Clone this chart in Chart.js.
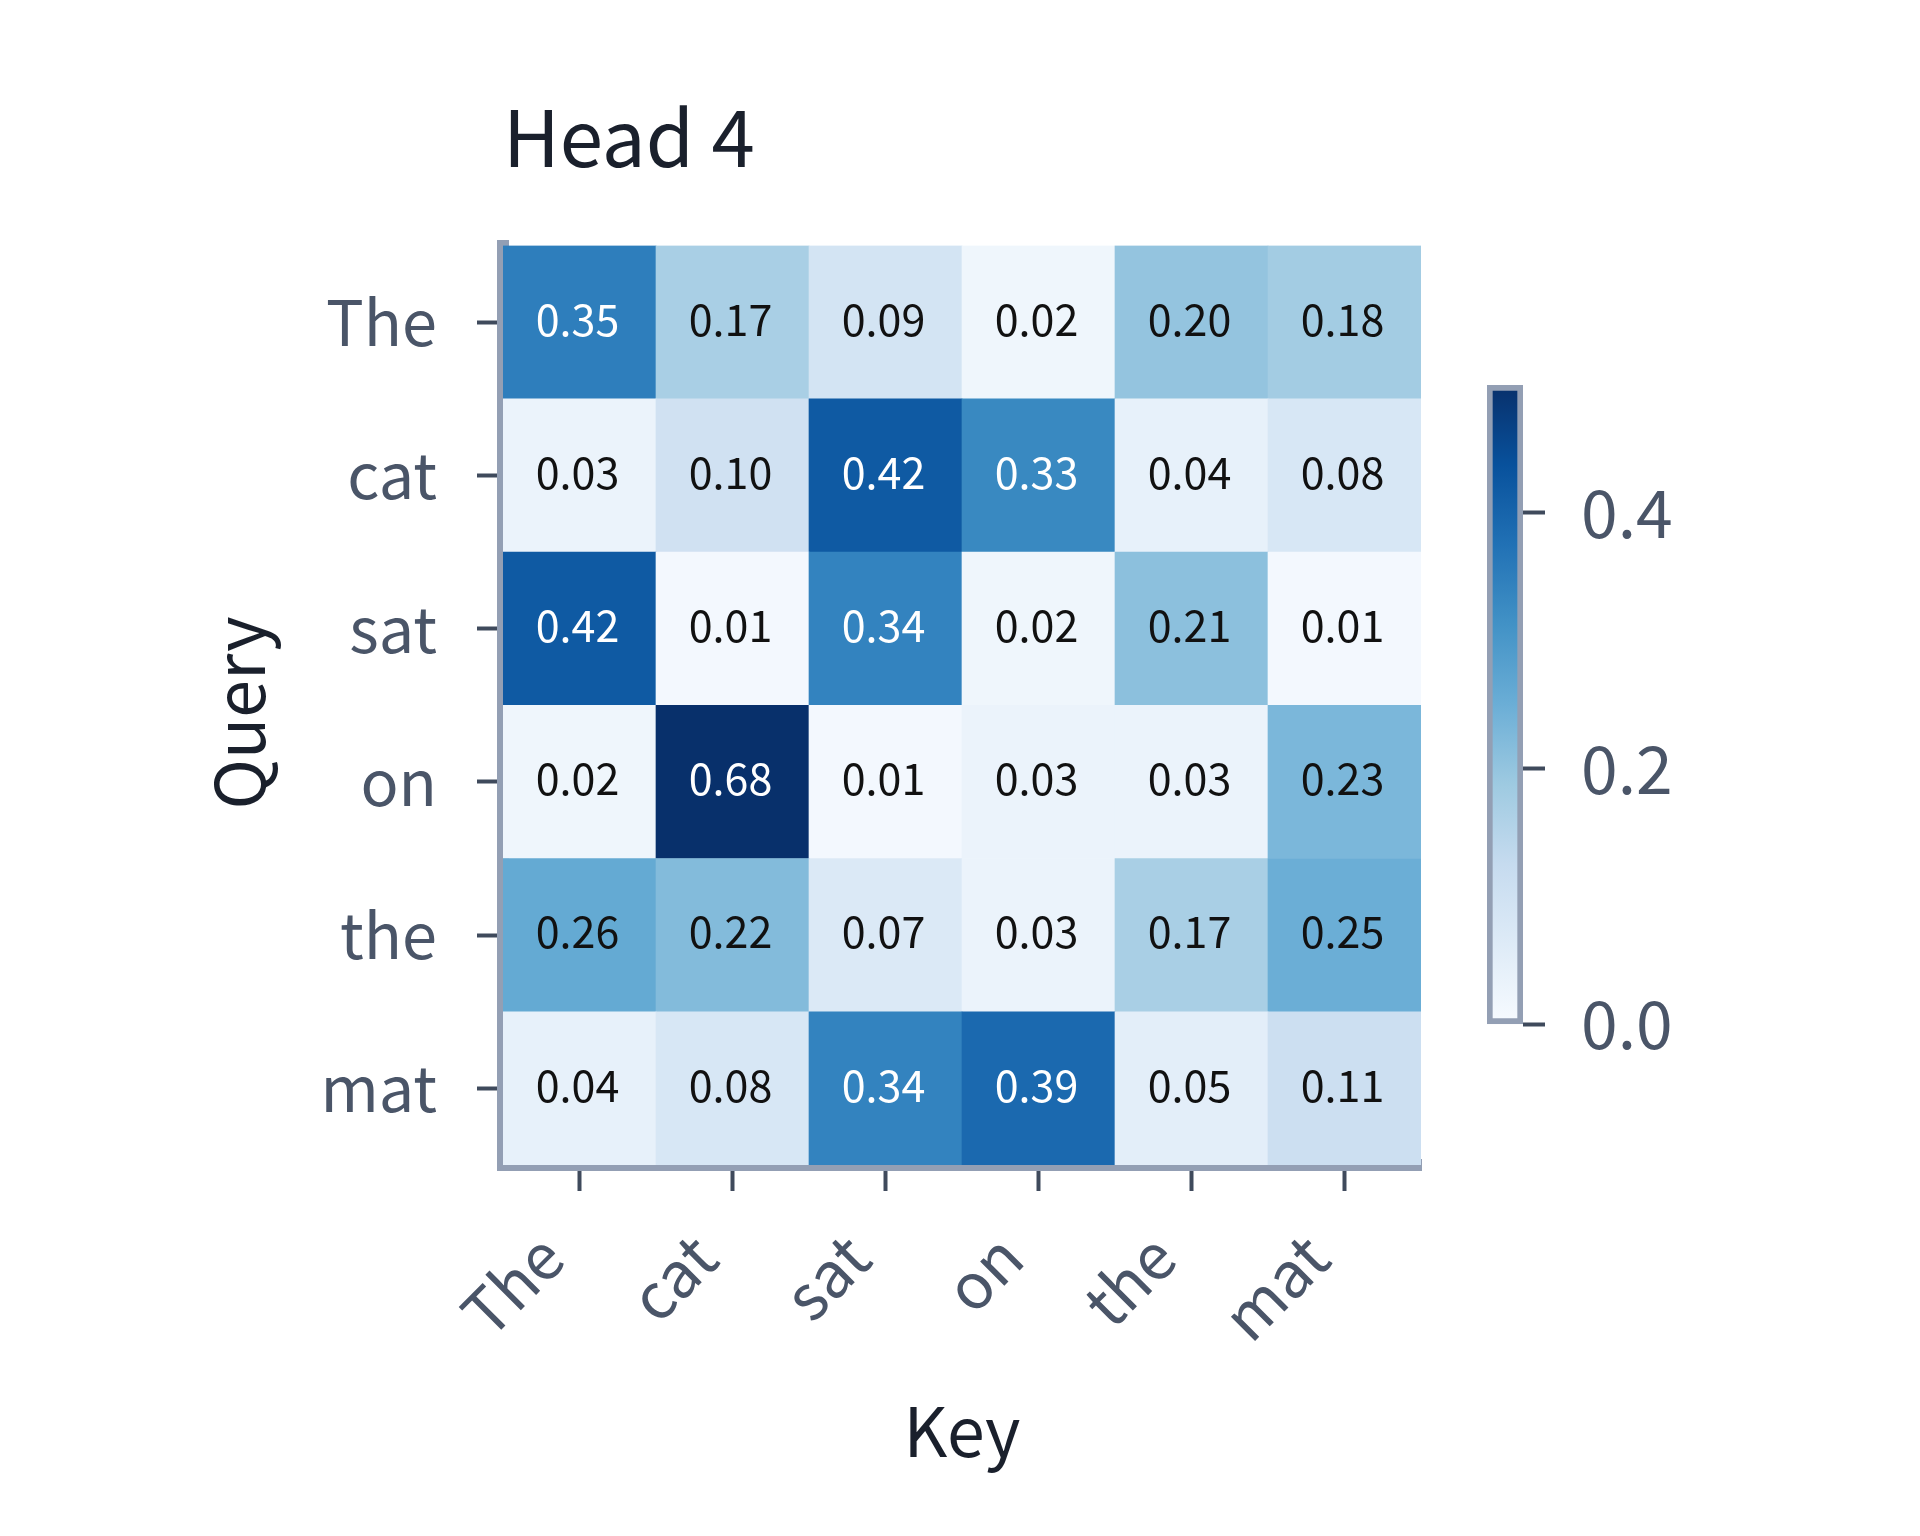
<!DOCTYPE html>
<html>
<head>
<meta charset="utf-8">
<title>Head 4</title>
<script src="https://cdn.jsdelivr.net/npm/chart.js@4.4.1/dist/chart.umd.min.js"></script>
<style>
  body { margin: 0; background: #ffffff; }
  #heat { position: absolute; left: 0; top: 0; }
  #bar { position: absolute; left: 1400px; top: 300px; }
</style>
</head>
<body>
<canvas id="heat" width="1920" height="1536"></canvas>
<canvas id="bar" width="500" height="800"></canvas>
<script>
// tokens
const keys = ['The', 'cat', 'sat', 'on', 'the', 'mat']
const queries = ['The', 'cat', 'sat', 'on', 'the', 'mat']

// attention weights, one row per query
const rowThe = [0.35, 0.17, 0.09, 0.02, 0.20, 0.18]
const rowCat = [0.03, 0.10, 0.42, 0.33, 0.04, 0.08]
const rowSat = [0.42, 0.01, 0.34, 0.02, 0.21, 0.01]
const rowOn  = [0.02, 0.68, 0.01, 0.03, 0.03, 0.23]
const rowThe2 = [0.26, 0.22, 0.07, 0.03, 0.17, 0.25]
const rowMat = [0.04, 0.08, 0.34, 0.39, 0.05, 0.11]
const rows = [rowThe, rowCat, rowSat, rowOn, rowThe2, rowMat]

// colour bar
const vMin = 0
const vMax = 0.5
const barTicks = [0, 0.2, 0.4]

// matplotlib Blues
const blues = ['#f7fbff', '#deebf7', '#c6dbef', '#9ecae1', '#6baed6', '#4292c6', '#2171b5', '#08519c', '#08306b']

function hexToRgb(h) {
    return [parseInt(h.slice(1, 3), 16), parseInt(h.slice(3, 5), 16), parseInt(h.slice(5, 7), 16)]
}

function bluesColor(t) {
    t = Math.max(0, Math.min(1, t))
    const pos = t * (blues.length - 1)
    const i = Math.min(Math.floor(pos), blues.length - 2)
    const f = pos - i
    const a = hexToRgb(blues[i])
    const b = hexToRgb(blues[i + 1])
    const c = a.map((v, k) => Math.round(v + (b[k] - v) * f))
    return 'rgb(' + c.join(',') + ')'
}

const fontFamily = "'Noto Sans CJK KR', 'Noto Sans', sans-serif"
Chart.defaults.font.family = fontFamily

// one floating bar per cell
const cells = []
const cellColors = []
const cellValues = []
rows.forEach((row, r) => {
    row.forEach((v, c) => {
        cells.push({ x: keys[c], y: [r, r + 1] })
        cellColors.push(bluesColor((v - vMin) / (vMax - vMin)))
        cellValues.push(v)
    })
})

// value written in the middle of every cell
const cellText = {
    id: 'cellText',
    afterDatasetsDraw(chart) {
        const ctx = chart.ctx
        const meta = chart.getDatasetMeta(0)
        ctx.save()
        ctx.font = '43px ' + fontFamily
        ctx.textAlign = 'center'
        ctx.textBaseline = 'middle'
        meta.data.forEach((el, i) => {
            const p = el.getProps(['x', 'y', 'base'], true)
            const v = cellValues[i]
            ctx.fillStyle = v > 0.3 ? '#ffffff' : '#111111'
            ctx.fillText(v.toFixed(2), p.x - 2, (p.y + p.base) / 2 - 3)
        })
        ctx.restore()
    }
}

const tickColor = '#4a5568'
const axisGrey = '#939fb4'
const tickMark = '#3f4a5c'

new Chart(document.getElementById('heat'), {
    type: 'bar',
    data: {
        labels: keys,
        datasets: [{
            data: cells,
            backgroundColor: cellColors,
            borderWidth: 0,
            barPercentage: 1,
            categoryPercentage: 1
        }]
    },
    options: {
        responsive: false,
        animation: false,
        devicePixelRatio: 1,
        layout: { padding: { left: 198, right: 499, top: 40, bottom: 64 } },
        plugins: {
            legend: { display: false },
            tooltip: { enabled: false },
            title: {
                display: true,
                text: 'Head 4',
                align: 'start',
                fullSize: false,
                color: '#1a202c',
                font: { size: 78, weight: 'normal', lineHeight: 1.2 },
                padding: { top: 51, bottom: 61 }
            }
        },
        scales: {
            x: {
                type: 'category',
                offset: true,
                grid: { display: true, drawOnChartArea: false, offset: false, tickLength: 26, tickWidth: 4, tickColor: tickMark },
                border: { display: true, color: axisGrey, width: 12 },
                ticks: { color: tickColor, font: { size: 63 }, minRotation: 45, maxRotation: 45, autoSkip: false, padding: 28, labelOffset: -28 },
                title: { display: true, text: 'Key', color: '#1a202c', font: { size: 68, lineHeight: 1.2 }, padding: 0 },
                afterFit(scale) { scale.height = 307 }
            },
            y: {
                type: 'linear',
                min: 0,
                max: 6,
                reverse: true,
                grid: { display: true, drawOnChartArea: false, tickLength: 26, tickWidth: 4, tickColor: tickMark },
                border: { display: true, color: axisGrey, width: 12 },
                afterBuildTicks(axis) {
                    axis.ticks = queries.map((q, i) => ({ value: i + 0.5 }))
                },
                ticks: {
                    color: tickColor,
                    font: { size: 63 },
                    padding: 40,
                    callback: (v, i) => queries[i]
                },
                title: { display: true, text: 'Query ', color: '#1a202c', font: { size: 68, lineHeight: 1.2 }, padding: 0 },
                afterFit(scale) { scale.width = 305 }
            }
        }
    },
    plugins: [cellText]
})

// colour bar
function barGradient(context) {
    const area = context.chart.chartArea
    if (!area) return blues[4]
    const g = context.chart.ctx.createLinearGradient(0, area.bottom, 0, area.top)
    blues.forEach((c, i) => g.addColorStop(i / (blues.length - 1), c))
    return g
}

new Chart(document.getElementById('bar'), {
    type: 'bar',
    data: {
        labels: [''],
        datasets: [{
            data: [[vMin, vMax]],
            backgroundColor: barGradient,
            borderColor: axisGrey,
            borderWidth: 6,
            borderSkipped: false,
            barPercentage: 1,
            categoryPercentage: 1
        }]
    },
    options: {
        responsive: false,
        animation: false,
        devicePixelRatio: 1,
        layout: { padding: { left: 87, right: 127, top: 85, bottom: 69 } },
        plugins: { legend: { display: false }, tooltip: { enabled: false } },
        scales: {
            x: { display: false },
            y: {
                position: 'right',
                min: vMin,
                max: vMax,
                grid: { display: true, drawOnChartArea: false, tickLength: 22, tickWidth: 4, tickColor: tickMark },
                border: { display: false },
                afterBuildTicks(axis) {
                    axis.ticks = barTicks.map(v => ({ value: v }))
                },
                ticks: {
                    color: tickColor,
                    font: { size: 66 },
                    padding: 36,
                    callback: v => v.toFixed(1)
                },
                afterFit(scale) { scale.width = 250 }
            }
        }
    }
})
</script>
</body>
</html>
